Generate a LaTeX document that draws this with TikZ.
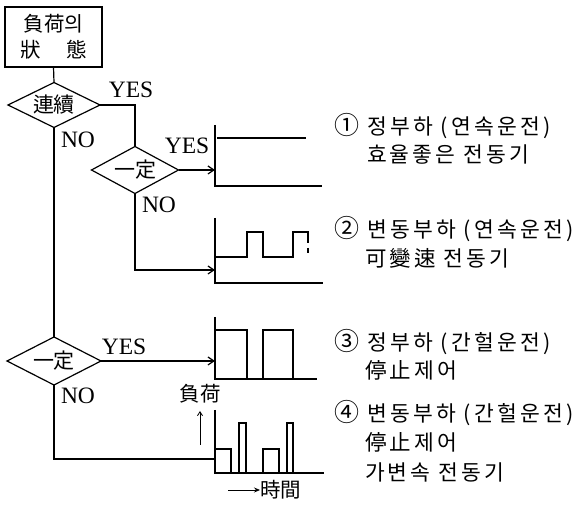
\documentclass[tikz,border=0pt]{standalone}
\usepackage{fontspec}
\setmainfont{Liberation Serif}
\newfontfamily\kr{Noto Sans CJK KR}[LetterSpace=15]
\newfontfamily\krn{Noto Sans CJK KR}
\usetikzlibrary{shapes.geometric,arrows.meta}
\newcommand{\circnum}[1]{{\fontsize{25}{26}\selectfont #1}}
\begin{document}
\begin{tikzpicture}[x=1pt,y=-1pt,
  line width=1.2pt,
  every node/.style={inner sep=0pt, outer sep=0pt},
  cjk/.style={font=\kr\fontsize{21.5}{26}\selectfont},
  cjkn/.style={font=\krn\fontsize{20.5}{26}\selectfont},
  lat/.style={font=\fontsize{23.5}{26}\selectfont},
  dec/.style={draw, diamond, aspect=2, inner sep=1pt, font=\krn\fontsize{21}{26}\selectfont},
  arr/.style={-{Straight Barb[length=6pt,width=8pt]}},
  desc/.style={cjk, anchor=west},
  chart/.style={line width=1.2pt}
]
\useasboundingbox (0,0) rectangle (574,510);

% start box and decisions
\node[draw, minimum width=97pt, minimum height=60pt, align=center, cjkn] (box) at (53.5,37) {負荷의\\狀\hspace{26pt}態};
\node[dec, minimum width=92pt, minimum height=45pt] (d1) at (54,105) {連續};
\node[dec, minimum width=87pt, minimum height=47pt] (d2) at (135,170) {一定};
\node[dec, minimum width=94pt, minimum height=48pt] (d3) at (54,361) {一定};

% connector end points
\coordinate (c1) at (215,170);
\coordinate (c2) at (215,270);
\coordinate (c3) at (215,361);
\coordinate (c4) at (215,459);

\draw (box.south) -- (d1.north);
\draw (d1.east) -| (d2.north);
\draw (d1.south) -- (d3.north);
\draw[arr] (d2.east) -- (c1);
\draw[arr] (d2.south) |- (c2);
\draw[arr] (d3.east) -- (c3);
\draw (d3.south) |- (c4);

% YES / NO labels
\node[lat] (y1) at (131,90) {YES};
\node[lat] (n1) at (78,140) {NO};
\node[lat] (y2) at (187,146) {YES};
\node[lat] (n2) at (159,205) {NO};
\node[lat] (y3) at (124,347) {YES};
\node[lat] (n3) at (78,396) {NO};

% chart 1
\draw[chart] (215,125) -- (215,186) -- (322,186);
\draw[chart] (217,138) -- (306,138);
% chart 2
\draw[chart] (215,218) -- (215,283) -- (323,283);
\draw[chart] (215,257) -- (247,257) -- (247,232) -- (263,232) -- (263,257) -- (293,257) -- (293,232) -- (308,232) -- (308,243);
\draw[chart] (308,248) -- (308,253);
% chart 3
\draw[chart] (215,317) -- (215,379) -- (317,379);
\draw[chart] (215,330) -- (247,330) -- (247,379);
\draw[chart] (263,379) -- (263,330) -- (293,330) -- (293,379);
% chart 4
\draw[chart] (215,410) -- (215,473) -- (324,473);
\draw[chart] (215,449) -- (231,449) -- (231,473);
\draw[chart] (239,473) -- (239,423) -- (246,423) -- (246,473);
\draw[chart] (263,473) -- (263,449) -- (279,449) -- (279,473);
\draw[chart] (287,473) -- (287,423) -- (293,423) -- (293,473);

% axis labels
\node[cjkn] (load) at (200,394) {負荷};
\coordinate (ua0) at (200,445);
\coordinate (ua1) at (200,411);
\draw[line width=0.8pt, -{Straight Barb[length=4pt,width=5pt]}] (ua0) -- (ua1);
\node[cjkn, anchor=west] (tm) at (260,490) {時間};
\coordinate (t0) at (228,490);
\draw[line width=0.8pt, -{Stealth[length=6pt,width=5pt]}] (t0) -- (tm.west);

% descriptions
\node[desc] (r1a) at (334,126) {\circnum{①} 정부하 (연속운전)};
\node[desc] (r1b) at (367,155) {효율좋은 전동기};
\node[desc] (r2a) at (334,229) {\circnum{②} 변동부하 (연속운전)};
\node[desc] (r2b) at (365,258) {可變速 전동기};
\node[desc] (r3a) at (334,342) {\circnum{③} 정부하 (간헐운전)};
\node[desc] (r3b) at (365,370) {停止제어};
\node[desc] (r4a) at (334,413) {\circnum{④} 변동부하 (간헐운전)};
\node[desc] (r4b) at (365,442) {停止제어};
\node[desc] (r4c) at (365,472) {가변속 전동기};
\end{tikzpicture}
\end{document}
